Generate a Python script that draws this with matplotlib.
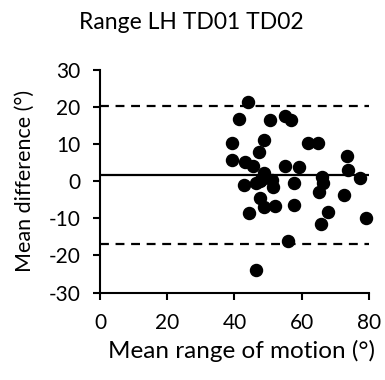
import matplotlib
matplotlib.use('Agg')
import matplotlib.pyplot as plt

# Bland-Altman data: mean range of motion (x) vs mean difference (y)
mean_rom = [43.9, 41.4, 50.7, 55.0, 56.7, 39.4, 48.8, 47.3, 61.8, 64.9,
            73.6, 39.3, 43.1, 45.5, 48.8, 55.0, 59.3, 73.8, 42.9, 46.5,
            48.0, 51.3, 51.5, 57.7, 66.0, 66.3, 77.5, 47.5, 48.8, 52.0,
            57.6, 65.3, 72.5, 44.3, 67.7, 65.9, 79.1, 56.0, 46.3, 47.6]
mean_diff = [21.4, 16.9, 16.4, 17.5, 16.6, 10.2, 11.0, 7.8, 10.2, 10.2,
             6.8, 5.6, 5.2, 4.2, 2.2, 4.0, 3.8, 3.1, -0.9, -0.4,
             0.4, 0.4, -1.6, -0.4, 1.2, -0.6, 0.8, -4.5, -7.0, -6.7,
             -6.3, -2.9, -3.8, -8.5, -8.3, -11.4, -10.0, -16.2, -23.8, 0.0]

bias = 1.6
upper_loa = 20.2
lower_loa = -17.0

plt.rcParams['font.family'] = ['Lato', 'DejaVu Sans']
plt.rcParams['axes.unicode_minus'] = False

fig = plt.figure(figsize=(3.85, 3.80), dpi=100)
ax = fig.add_axes([0.26, 0.23, 0.698, 0.586])

ax.scatter(mean_rom, mean_diff, s=75, color='black', zorder=3, clip_on=False)
ax.axhline(bias, color='black', lw=1.6, zorder=2)
ax.axhline(upper_loa, color='black', lw=1.6, ls=(0, (4, 3)), zorder=2)
ax.axhline(lower_loa, color='black', lw=1.6, ls=(0, (4, 3)), zorder=2)

ax.set_xlim(0, 80)
ax.set_ylim(-30, 30)
ax.set_xticks([0, 20, 40, 60, 80])
ax.set_yticks([-30, -20, -10, 0, 10, 20, 30])

for s in ['top', 'right']:
    ax.spines[s].set_visible(False)
for s in ['left', 'bottom']:
    ax.spines[s].set_linewidth(1.5)
ax.tick_params(direction='out', length=5, width=1.5, labelsize=15)
ax.tick_params(axis='x', pad=10)
ax.tick_params(axis='y', pad=9)

ax.set_xlabel('Mean range of motion (°)', fontsize=17.5, va='center')
ax.xaxis.set_label_coords(0.528, -0.264)
ax.set_ylabel('Mean difference (°)', fontsize=15.5, va='center')
ax.yaxis.set_label_coords(-0.28, 0.5)
fig.text(0.497, 0.942, 'Range LH TD01 TD02', ha='center', va='center', fontsize=16.5)

fig.savefig('out.png', dpi=100)
